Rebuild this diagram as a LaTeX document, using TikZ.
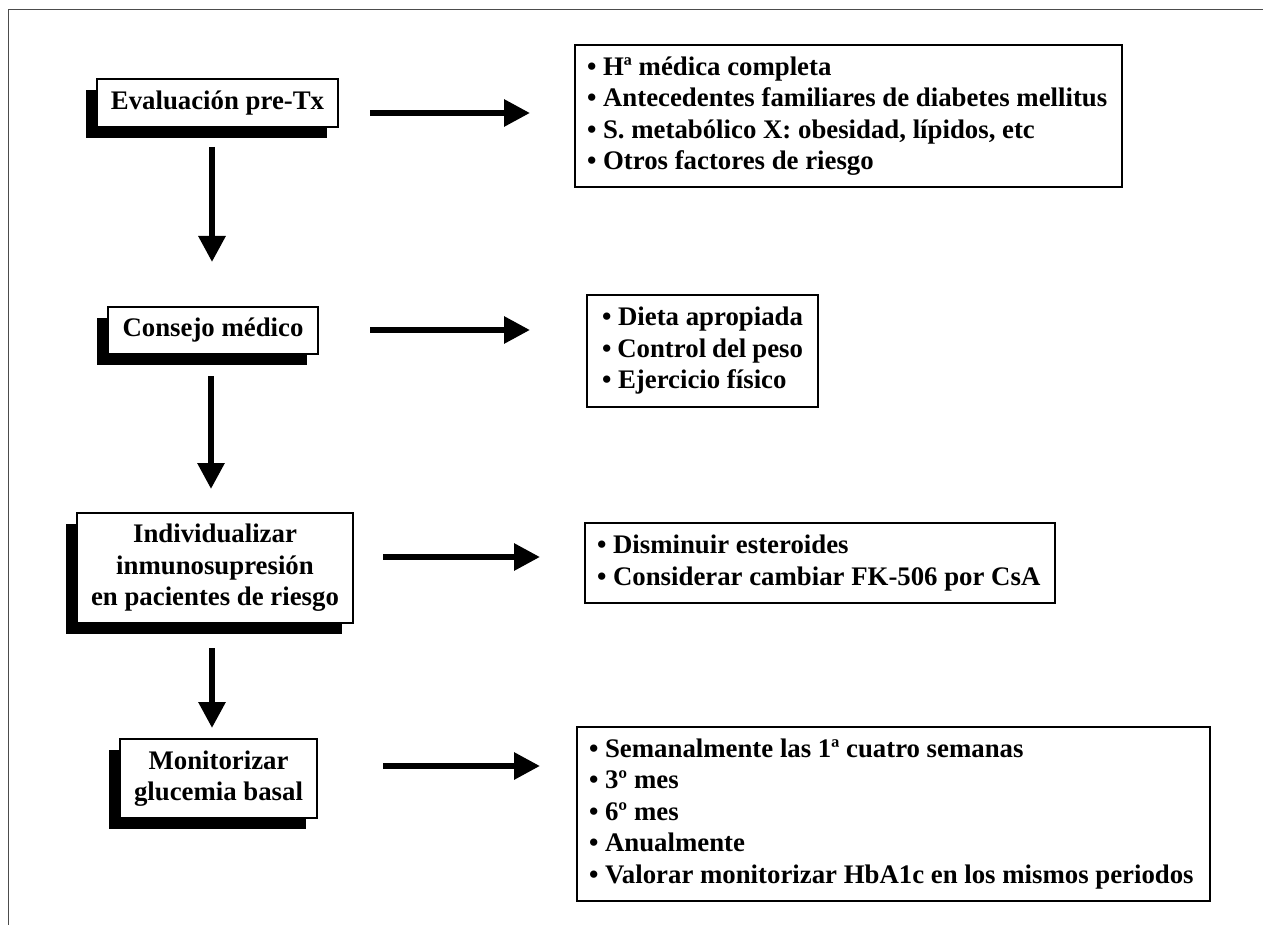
\documentclass[tikz,border=0pt]{standalone}
\usepackage{fontspec}
\setmainfont{Liberation Serif}
\usetikzlibrary{arrows.meta,shadows}
\begin{document}
\begin{tikzpicture}[x=1pt,y=-1pt,
  txt/.style={font=\fontsize{26.8}{31.5}\selectfont\bfseries},
  stepbox/.style={txt, draw=black, line width=1.3pt, fill=white, align=center,
    inner sep=0pt, drop shadow={shadow xshift=-11pt,shadow yshift=-11pt,opacity=1,fill=black}},
  listbox/.style={txt, draw=black, line width=1.3pt, fill=white, align=flush left,
    inner xsep=12pt, inner ysep=0pt},
  flow/.style={line width=6pt, -{Triangle[length=26pt,width=26pt]}},
  frame/.style={draw=black!70, line width=1.5pt}]
\useasboundingbox (0,0) rectangle (1263,925);
\draw[frame] (8.5,925) -- (8.5,9.5) -- (1263,9.5);

% left step boxes
\node[stepbox, minimum width=241pt, minimum height=48pt] (b1) at (217.5,103) {Evaluación pre-Tx};
\node[stepbox, minimum width=210pt, minimum height=47pt] (b2) at (213,330.5) {Consejo médico};
\node[stepbox, minimum width=276pt, minimum height=110pt] (b3) at (215,568) {Individualizar\\inmunosupresión\\en pacientes de riesgo};
\node[stepbox, minimum width=197pt, minimum height=79pt] (b4) at (218.5,778.5) {Monitorizar\\glucemia basal};

% right list boxes
\node[listbox, text width=523pt, minimum height=142pt] (r1) at (848.5,116)
  {• Hª médica completa\\• Antecedentes familiares de diabetes mellitus\\• S. metabólico X: obesidad, lípidos, etc\\• Otros factores de riesgo};
\node[listbox, text width=201pt, inner xsep=15pt, minimum height=112pt] (r2) at (702.5,351)
  {• Dieta apropiada\\• Control del peso\\• Ejercicio físico};
\node[listbox, text width=446pt, minimum height=80pt] (r3) at (820,563)
  {• Disminuir esteroides\\• Considerar cambiar FK-506 por CsA};
\node[listbox, text width=609pt, minimum height=174pt] (r4) at (893.5,814)
  {• Semanalmente las 1ª cuatro semanas\\• 3º mes\\• 6º mes\\• Anualmente\\• Valorar monitorizar HbA1c en los mismos periodos};

% arrow end points
\coordinate (h1s) at (370,113); \coordinate (h1e) at (530,113);
\coordinate (h2s) at (370,330); \coordinate (h2e) at (530,330);
\coordinate (h3s) at (383,557); \coordinate (h3e) at (540,557);
\coordinate (h4s) at (383,766); \coordinate (h4e) at (540,766);
\coordinate (v1s) at (212,147); \coordinate (v1e) at (212,262);
\coordinate (v2s) at (211,376); \coordinate (v2e) at (211,489);
\coordinate (v3s) at (212,648); \coordinate (v3e) at (212,728);

\draw[flow] (h1s) -- (h1e);
\draw[flow] (h2s) -- (h2e);
\draw[flow] (h3s) -- (h3e);
\draw[flow] (h4s) -- (h4e);
\draw[flow] (v1s) -- (v1e);
\draw[flow] (v2s) -- (v2e);
\draw[flow] (v3s) -- (v3e);
\end{tikzpicture}
\end{document}
